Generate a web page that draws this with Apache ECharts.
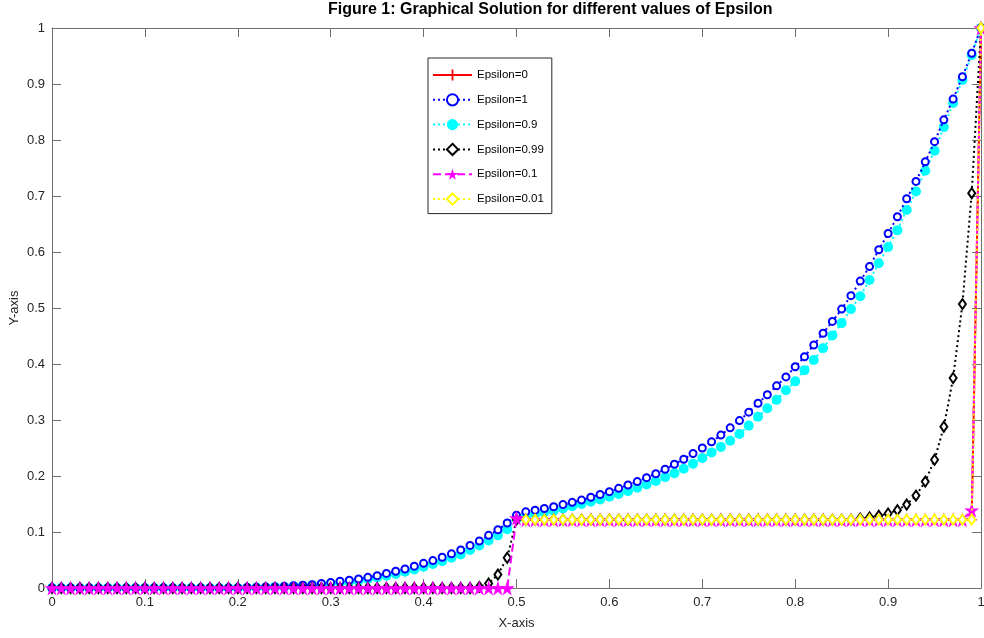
<!DOCTYPE html>
<html>
<head>
<meta charset="utf-8">
<script src="https://cdn.jsdelivr.net/npm/echarts@6/dist/echarts.min.js"></script>
<style>
  html, body { margin: 0; padding: 0; background: #fff; }
  #chart { width: 984px; height: 638px; }
</style>
</head>
<body>
<div id="chart"></div>
<script>
// x grid (step 0.01)
var xs = [0,0.01,0.02,0.03,0.04,0.05,0.06,0.07,0.08,0.09,
  0.1,0.11,0.12,0.13,0.14,0.15,0.16,0.17,0.18,0.19,
  0.2,0.21,0.22,0.23,0.24,0.25,0.26,0.27,0.28,0.29,
  0.3,0.31,0.32,0.33,0.34,0.35,0.36,0.37,0.38,0.39,
  0.4,0.41,0.42,0.43,0.44,0.45,0.46,0.47,0.48,0.49,
  0.5,0.51,0.52,0.53,0.54,0.55,0.56,0.57,0.58,0.59,
  0.6,0.61,0.62,0.63,0.64,0.65,0.66,0.67,0.68,0.69,
  0.7,0.71,0.72,0.73,0.74,0.75,0.76,0.77,0.78,0.79,
  0.8,0.81,0.82,0.83,0.84,0.85,0.86,0.87,0.88,0.89,
  0.9,0.91,0.92,0.93,0.94,0.95,0.96,0.97,0.98,0.99,1];

// Epsilon=0 (hidden under the 0.01 curve except at the right edge)
var eps0 = [null,null,null,null,null,null,null,null,null,null,
  null,null,null,null,null,null,null,null,null,null,
  null,null,null,null,null,null,null,null,null,null,
  null,null,null,null,null,null,null,null,null,null,
  null,null,null,null,null,null,null,null,null,null,
  null,0.122,0.122,0.122,0.122,0.122,0.122,0.122,0.122,0.122,
  0.122,0.122,0.122,0.122,0.122,0.122,0.122,0.122,0.122,0.122,
  0.122,0.122,0.122,0.122,0.122,0.122,0.122,0.122,0.122,0.122,
  0.122,0.122,0.122,0.122,0.122,0.122,0.122,0.122,0.122,0.122,
  0.122,0.122,0.122,0.122,0.122,0.122,0.122,0.122,0.122,0.122, 1];

// Epsilon=1
var eps1 = [0,0,0,0,0,0,0,0,0,0, 0,0,0,0,0,0,0,0,0,0,
  0,0.001,0.001,0.002,0.002,0.003,0.004,0.005,0.006,0.008,
  0.010,0.012,0.014,0.016,0.019,0.022,0.026,0.030,0.034,0.039,
  0.044,0.049,0.055,0.061,0.068,0.076,0.084,0.094,0.104,0.116,
  0.130,0.136,0.139,0.142,0.145,0.149,0.153,0.157,0.162,0.167,
  0.172,0.178,0.184,0.190,0.197,0.204,0.212,0.221,0.230,0.240,
  0.250,0.261,0.273,0.286,0.299,0.314,0.330,0.345,0.361,0.377,
  0.395,0.413,0.434,0.455,0.476,0.498,0.522,0.548,0.574,0.604,
  0.633,0.663,0.695,0.726,0.761,0.797,0.836,0.873,0.913,0.955, 1];

// Epsilon=0.9
var eps09 = [0,0,0,0,0,0,0,0,0,0, 0,0,0,0,0,0,0,0,0,0,
  0,0,0.001,0.001,0.002,0.002,0.003,0.004,0.005,0.006,
  0.008,0.009,0.011,0.013,0.016,0.019,0.022,0.025,0.029,0.033,
  0.038,0.043,0.048,0.054,0.060,0.068,0.076,0.085,0.094,0.105,
  0.123,0.128,0.132,0.135,0.138,0.142,0.146,0.150,0.154,0.158,
  0.163,0.168,0.173,0.179,0.185,0.191,0.198,0.205,0.213,0.222,
  0.232,0.242,0.252,0.263,0.275,0.290,0.306,0.321,0.336,0.353,
  0.369,0.389,0.407,0.428,0.451,0.473,0.498,0.521,0.550,0.580,
  0.609,0.639,0.675,0.708,0.745,0.781,0.823,0.866,0.907,0.952, 1];

// Epsilon=0.99
var eps099 = [0,0,0,0,0,0,0,0,0,0, 0,0,0,0,0,0,0,0,0,0,
  0,0,0,0,0,0,0,0,0,0, 0,0,0,0,0,0,0,0,0,0,
  0,0,0,0,0,0,0.002,0.008,0.024,0.054,
  0.122,0.122,0.122,0.122,0.122,0.122,0.122,0.122,0.122,0.122,
  0.122,0.122,0.122,0.122,0.122,0.122,0.122,0.122,0.122,0.122,
  0.122,0.122,0.122,0.122,0.122,0.122,0.122,0.122,0.122,0.122,
  0.122,0.122,0.122,0.122,0.122,0.122,0.122,0.124,0.126,0.129,
  0.133,0.139,0.149,0.165,0.190,0.229,0.288,0.375,0.507,0.705, 1];

// Epsilon=0.1
var eps01 = [0,0,0,0,0,0,0,0,0,0, 0,0,0,0,0,0,0,0,0,0,
  0,0,0,0,0,0,0,0,0,0, 0,0,0,0,0,0,0,0,0,0,
  0,0,0,0,0,0,0,0,0,0,
  0.125,0.122,0.122,0.122,0.122,0.122,0.122,0.122,0.122,0.122,
  0.122,0.122,0.122,0.122,0.122,0.122,0.122,0.122,0.122,0.122,
  0.122,0.122,0.122,0.122,0.122,0.122,0.122,0.122,0.122,0.122,
  0.122,0.122,0.122,0.122,0.122,0.122,0.122,0.122,0.122,0.122,
  0.122,0.122,0.122,0.122,0.122,0.122,0.122,0.122,0.122,0.139, 1];

// Epsilon=0.01 (no marks left of 0.51)
var eps001 = [null,null,null,null,null,null,null,null,null,null,
  null,null,null,null,null,null,null,null,null,null,
  null,null,null,null,null,null,null,null,null,null,
  null,null,null,null,null,null,null,null,null,null,
  null,null,null,null,null,null,null,null,null,null,
  null,0.122,0.122,0.122,0.122,0.122,0.122,0.122,0.122,0.122,
  0.122,0.122,0.122,0.122,0.122,0.122,0.122,0.122,0.122,0.122,
  0.122,0.122,0.122,0.122,0.122,0.122,0.122,0.122,0.122,0.122,
  0.122,0.122,0.122,0.122,0.122,0.122,0.122,0.122,0.122,0.122,
  0.122,0.122,0.122,0.122,0.122,0.122,0.122,0.122,0.122,0.122, 1];

function pairs(ys) {
  return xs.map(function (x, i) { return [x, ys[i]]; });
}

var starPath = 'path://M50,0L61,35L98,35L68,57L79,91L50,70L21,91L32,57L2,35L39,35Z';
var plusPath = 'path://M4.2,0H5.8V4.2H10V5.8H5.8V10H4.2V5.8H0V4.2H4.2Z';
var font = 'Liberation Sans, Arial, sans-serif';
var axisColor = '#707070';

var chart = echarts.init(document.getElementById('chart'));

var option = {
  animation: false,
  backgroundColor: '#fff',
  title: {
    text: 'Figure 1: Graphical Solution for different values of Epsilon',
    left: 328,
    top: 2,
    padding: 0,
    textStyle: { fontSize: 16, fontWeight: 'bold', color: '#000', fontFamily: font }
  },
  legend: {
    orient: 'vertical',
    left: 428,
    top: 58,
    padding: [11, 8, 8, 4],
    itemWidth: 39,
    itemHeight: 14,
    itemGap: 12.2,
    backgroundColor: '#fff',
    borderColor: '#262626',
    borderWidth: 1,
    borderRadius: 0,
    selectedMode: false,
    textStyle: { fontSize: 11.5, color: '#000', fontFamily: font },
    data: ['Epsilon=0', 'Epsilon=1', 'Epsilon=0.9', 'Epsilon=0.99', 'Epsilon=0.1', 'Epsilon=0.01']
  },
  grid: { left: 52, right: 3, top: 28, bottom: 50, containLabel: false, outerBoundsMode: 'none' },
  xAxis: [{
    type: 'value', min: 0, max: 1, interval: 0.1,
    name: 'X-axis', nameLocation: 'middle', nameGap: 29, nameMoveOverlap: false,
    nameTextStyle: { fontSize: 13, color: '#262626', fontFamily: font },
    axisLine: { onZero: false, lineStyle: { color: axisColor, width: 1 } },
    axisTick: { inside: true, length: 9, lineStyle: { color: axisColor } },
    axisLabel: { margin: 8, fontSize: 13, color: '#262626', fontFamily: font },
    splitLine: { show: false }
  }, {
    type: 'value', min: 0, max: 1, interval: 0.1, position: 'top',
    axisLine: { onZero: false, lineStyle: { color: axisColor, width: 1 } },
    axisTick: { inside: true, length: 9, lineStyle: { color: axisColor } },
    axisLabel: { show: false },
    splitLine: { show: false }
  }],
  yAxis: [{
    type: 'value', min: 0, max: 1, interval: 0.1,
    name: 'Y-axis', nameLocation: 'middle', nameGap: 31, nameMoveOverlap: false,
    nameTextStyle: { fontSize: 13, color: '#262626', fontFamily: font },
    axisLine: { show: true, onZero: false, lineStyle: { color: axisColor, width: 1 } },
    axisTick: { show: true, inside: true, length: 9, lineStyle: { color: axisColor } },
    axisLabel: { margin: 7, fontSize: 13, color: '#262626', fontFamily: font },
    splitLine: { show: false }
  }, {
    type: 'value', min: 0, max: 1, interval: 0.1, position: 'right',
    axisLine: { show: true, onZero: false, lineStyle: { color: axisColor, width: 1 } },
    axisTick: { show: true, inside: true, length: 9, lineStyle: { color: axisColor } },
    axisLabel: { show: false },
    splitLine: { show: false }
  }],
  series: [
    {
      name: 'Epsilon=0', type: 'line', z: 1, data: pairs(eps0),
      showSymbol: true, symbol: plusPath, symbolSize: 10,
      lineStyle: { color: '#ff0000', width: 2 },
      itemStyle: { color: '#ff0000' }
    },
    {
      name: 'Epsilon=1', type: 'line', z: 3, data: pairs(eps1),
      showSymbol: true, symbol: 'emptyCircle', symbolSize: 7,
      lineStyle: { color: '#0000ff', width: 2, type: [2, 3] },
      itemStyle: { color: '#0000ff', borderWidth: 2.8 }
    },
    {
      name: 'Epsilon=0.9', type: 'line', z: 2, data: pairs(eps09),
      showSymbol: true, symbol: 'circle', symbolSize: 10,
      lineStyle: { color: '#00ffff', width: 2, type: [2, 3] },
      itemStyle: { color: '#00ffff' }
    },
    {
      name: 'Epsilon=0.99', type: 'line', z: 4, data: pairs(eps099),
      showSymbol: true, symbol: 'emptyDiamond', symbolSize: [7, 10],
      lineStyle: { color: '#000000', width: 2, type: [2, 3] },
      itemStyle: { color: '#000000', borderWidth: 2.5 }
    },
    {
      name: 'Epsilon=0.1', type: 'line', z: 5, data: pairs(eps01),
      showSymbol: true, symbol: starPath, symbolSize: 15,
      lineStyle: { color: '#ff00ff', width: 2, type: [8, 4] },
      itemStyle: { color: '#ff00ff' }
    },
    {
      name: 'Epsilon=0.01', type: 'line', z: 6, data: pairs(eps001),
      showSymbol: true, symbol: 'emptyDiamond', symbolSize: [7, 10],
      lineStyle: { color: '#ffff00', width: 2, type: [2, 3] },
      itemStyle: { color: '#ffff00', borderWidth: 2.5 }
    }
  ]
};

chart.setOption(option);
</script>
</body>
</html>
